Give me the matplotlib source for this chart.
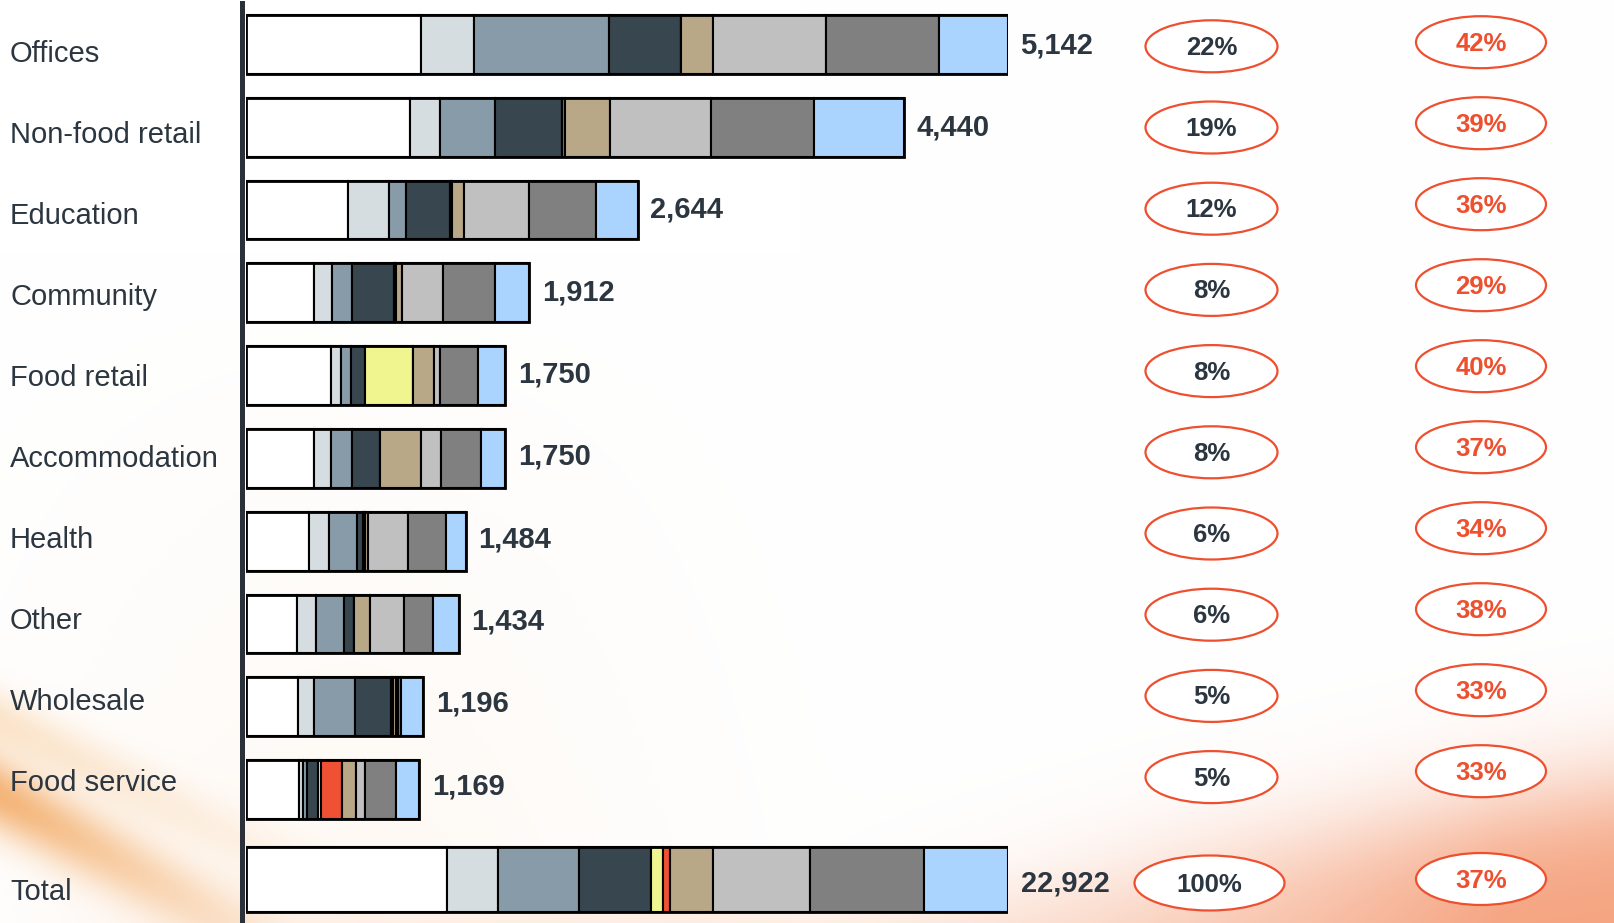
"""Stacked horizontal bars of floor area by building type, with share and ratio ovals."""
import numpy as np
import matplotlib
matplotlib.use("Agg")
import matplotlib.pyplot as plt
from matplotlib.patches import Ellipse

plt.rcParams['font.family'] = ['Liberation Sans', 'DejaVu Sans']

# --- data ---
categories = ["Offices", "Non-food retail", "Education", "Community", "Food retail",
              "Accommodation", "Health", "Other", "Wholesale", "Food service"]
white = [1180, 1110, 686, 461, 571, 458, 427, 341, 353, 359]
light_grey = [361, 196, 277, 119, 70, 116, 132, 132, 109, 28]
blue_grey = [908, 371, 119, 132, 68, 143, 193, 187, 273, 28]
dark_slate = [488, 457, 295, 285, 91, 188, 40, 68, 244, 70]
yellow = [0, 0, 5, 6, 324, 0, 4, 0, 6, 19]
red = [0, 20, 5, 7, 0, 0, 5, 0, 10, 144]
tan = [217, 302, 83, 44, 143, 274, 24, 109, 16, 93]
silver = [760, 680, 440, 275, 43, 136, 266, 232, 12, 65]
grey = [764, 694, 453, 352, 254, 272, 257, 193, 20, 209]
light_blue = [464, 610, 281, 231, 186, 163, 136, 172, 153, 154]
total_segments = [6050, 1537, 2432, 2162, 370, 200, 1284, 2922, 3431, 2534]
share_labels = ["22%", "19%", "12%", "8%", "8%", "8%", "6%", "6%", "5%", "5%"]
ratio_labels = ["42%", "39%", "36%", "29%", "40%", "37%", "34%", "38%", "33%", "33%"]
total_share = "100%"
total_ratio = "37%"

series = [white, light_grey, blue_grey, dark_slate, yellow, red, tan, silver, grey, light_blue]
colors = ['#ffffff', '#d5dde1', '#879ca8', '#38464f', '#f0f590',
          '#f05033', '#b8a888', '#c0c0c0', '#808080', '#aad4fe']
TEXT = '#2b3640'
ORANGE = '#ee4f2f'

W, H = 1614, 923
fig = plt.figure(figsize=(W / 100, H / 100), dpi=100)

# --- background with soft orange swooshes ---
yy, xx = np.mgrid[0:H, 0:W].astype(float)
w_right = 1 / (1 + np.exp(-(yy - (872 - 0.17 * (xx - 1130))) / 34)) * np.clip((xx - 800) / 700, 0, 1)
d_left = yy - (795 + 0.55 * xx)
w_left = np.exp(-(d_left / 38) ** 2) * np.clip(1 - xx / 330, 0, 1) * 0.85
d_left2 = yy - (720 + 0.5 * xx)
w_left2 = 0.35 * np.exp(-(d_left2 / 30) ** 2) * np.clip(1 - xx / 400, 0, 1)
w_glow = 0.10 * np.exp(-((xx - 350) / 320) ** 2) * np.clip((yy - 250) / 600, 0, 1)
w_bot = 0.25 * np.clip((yy - 860) / 63, 0, 1) * np.clip(1 - np.abs(xx - 700) / 700, 0, 1)
bg = np.ones((H, W, 3))
for w, c in [(w_glow, (0.98, 0.78, 0.6)), (w_bot, (0.97, 0.72, 0.55)),
             (w_left2, (0.96, 0.72, 0.45)), (w_left, (0.95, 0.66, 0.38)),
             (w_right, (0.96, 0.64, 0.5))]:
    w = np.clip(w, 0, 1)[..., None]
    bg = bg * (1 - w) + np.array(c) * w
ax_bg = fig.add_axes([0, 0, 1, 1])
ax_bg.imshow(bg, aspect='auto', extent=(0, W, H, 0))
ax_bg.axis('off')


def px_axes(left, top, right, bottom):
    return fig.add_axes([left / W, 1 - bottom / H, (right - left) / W, (bottom - top) / H])


def style(ax):
    ax.set_facecolor('none')
    for s in ['top', 'right', 'bottom']:
        ax.spines[s].set_visible(False)
    ax.spines['left'].set_linewidth(3.6)
    ax.spines['left'].set_color('#2a3138')
    ax.spines['left'].set_position(('outward', 3))
    ax.set_xticks([])
    ax.set_yticks([])


def stacked(ax, ypos, values, height):
    left = np.zeros(len(ypos))
    for vals, col in zip(values, colors):
        ax.barh(ypos, vals, left=left, height=height, color=col,
                edgecolor='black', linewidth=1.5)
        left += np.array(vals)
    # outer frame of each bar
    ax.barh(ypos, left, height=height, color='none', edgecolor='black', linewidth=2.0)
    return left


# --- category bars ---
ax = px_axes(246, 3, 1008, 831)
style(ax)
ypos = np.arange(len(categories))
totals = stacked(ax, ypos, series, 0.71)
ax.set_xlim(0, totals.max())
ax.set_ylim(len(categories) - 0.5, -0.5)
for i, t in enumerate(totals):
    ax.annotate(f"{int(t):,}", xy=(t, i + (1 - 0.5 * i) / 82.8), xytext=(9, 0),
                textcoords='offset points', va='center', ha='left', fontsize=21,
                fontweight='bold', color=TEXT, annotation_clip=False)

# --- total bar, on its own scale ---
ax_t = px_axes(246, 836, 1008, 923)
style(ax_t)
grand = stacked(ax_t, [0], [[v] for v in total_segments], 0.74)
ax_t.set_xlim(0, grand[0])
ax_t.set_ylim(0.5, -0.5)
ax_t.annotate(f"{int(grand[0]):,}", xy=(grand[0], 0.045), xytext=(9, 0), textcoords='offset points',
              va='center', ha='left', fontsize=21, fontweight='bold', color=TEXT,
              annotation_clip=False)

# --- labels and ovals ---
ov = fig.add_axes([0, 0, 1, 1])
ov.set_xlim(0, W)
ov.set_ylim(H, 0)
ov.axis('off')
ov.set_facecolor('none')

for i, name in enumerate(categories):
    ov.text(10, 53.5 + i * 81.1, name, fontsize=21, color=TEXT, va='center', ha='left')
ov.text(10, 892, "Total", fontsize=21, color=TEXT, va='center', ha='left')


def oval(x, y, w, h, label, color):
    ov.add_patch(Ellipse((x, y), w, h, facecolor='white', edgecolor=ORANGE, linewidth=1.6))
    ov.text(x, y + 1.5, label, fontsize=18.5, fontweight='bold', color=color, ha='center', va='center')


for i, (s, r) in enumerate(zip(share_labels, ratio_labels)):
    oval(1211.5, 46.3 + i * 81.2, 132, 52, s, TEXT)
    oval(1481, 42.2 + i * 81.0, 130, 52, r, ORANGE)
oval(1209.5, 883, 150, 55, total_share, TEXT)
oval(1481, 879, 130, 52, total_ratio, ORANGE)

fig.savefig("out.png", dpi=100)
